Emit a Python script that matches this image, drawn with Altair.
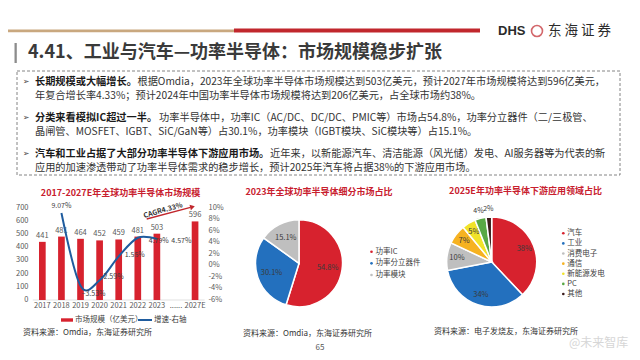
import math
import altair as alt
import pandas as pd

# ---------------- data ----------------
years = ["2017", "2018", "2019", "2020", "2021", "2022", "2023", "......", "2027E"]
market = [441, 481, 464, 452, 459, 481, 503, None, 596]
growth_years = ["2018", "2019", "2020", "2021", "2022", "2023"]
growth = [9.07, -3.53, -2.59, 1.55, 4.79, 4.57]
left_ticks = [0, 100, 200, 300, 400, 500, 600, 700]
right_ticks = [-6, -4, -2, 0, 2, 4, 6, 8, 10]

seg_names = ["功率IC", "功率分立器件", "功率模块"]
seg_share = [54.8, 30.1, 15.1]

app_names = ["汽车", "工业", "消费电子", "通信", "新能源发电", "PC", "其他"]
app_share = [38, 34, 10, 7, 5, 4, 2]

page_title = "4.41、工业与汽车—功率半导体：市场规模稳步扩张"
bullet_lines = [
    ("长期规模或大幅增长。",
     "根据Omdia，2023年全球功率半导体市场规模达到503亿美元，预计2027年市场规模将达到596亿美元，",
     "年复合增长率4.33%；预计2024年中国功率半导体市场规模将达到206亿美元，占全球市场约38%。"),
    ("分类来看模拟IC超过一半。",
     "功率半导体中，功率IC（AC/DC、DC/DC、PMIC等）市场占54.8%，功率分立器件（二/三极管、",
     "晶闸管、MOSFET、IGBT、SiC/GaN等）占30.1%，功率模块（IGBT模块、SiC模块等）占15.1%。"),
    ("汽车和工业占据了大部分功率半导体下游应用市场。",
     "近年来，以新能源汽车、清洁能源（风光储）发电、AI服务器等为代表的新",
     "应用的加速渗透带动了功率半导体需求的稳步增长，预计2025年汽车将占据38%的下游应用市场。"),
]
chart_titles = ["2017-2027E年全球功率半导体市场规模", "2023年全球功率半导体细分市场占比",
                "2025E年功率半导体下游应用领域占比"]
legend_bar = ["市场规模（亿美元）", "增速-右轴"]
sources = ["资料来源：Omdia，东海证券研究所", "资料来源：Omdia，东海证券研究所",
           "资料来源：电子发烧友，东海证券研究所"]
cagr_text = "CAGR4.33%"

# ---------------- style ----------------
FONT = "Noto Sans CJK SC"
RED = "#d7222e"
TRED = "#c8202e"
LBLUE = "#1f5c9e"
seg_colors = ["#d7222e", "#2370be", "#bfbfbf"]
app_colors = ["#d7222e", "#2370be", "#bfbfbf", "#f6b221", "#f1e32a", "#58a845", "#3a1b1b"]
TXT = "#333333"
AX = "#595959"

OX, OY = 8, 8


def px(v):
    return v - OX


def py(v):
    return v - OY


one = pd.DataFrame({"k": [0]})


def T(s, x, y, size=10, color=TXT, weight="normal", align="left", angle=None, font=FONT, opacity=1.0):
    kw = dict(text=s, fontSize=size, color=color, fontWeight=weight, align=align,
              baseline="middle", font=font, opacity=opacity)
    if angle is not None:
        kw["angle"] = angle
    return alt.Chart(one).mark_text(**kw).encode(x=alt.value(px(x)), y=alt.value(py(y)))


def R(x1, x2, y1, y2, color):
    return alt.Chart(one).mark_rect(color=color).encode(
        x=alt.value(px(x1)), x2=alt.value(px(x2)), y=alt.value(py(y1)), y2=alt.value(py(y2)))


def L(x1, y1, x2, y2, color, w=1.0):
    return alt.Chart(one).mark_rule(color=color, strokeWidth=w).encode(
        x=alt.value(px(x1)), x2=alt.value(px(x2)), y=alt.value(py(y1)), y2=alt.value(py(y2)))


def em_width(s, fs):
    return sum(fs if ord(c) > 0x2E80 else fs * 0.56 for c in s)


layers = []

# ---------------- header ----------------
layers.append(R(0, 234, 29.5, 32.3, "#c9a87f"))
layers.append(R(234, 480, 28.6, 32.6, "#c1272d"))
layers.append(T("DHS", 498, 31, size=13, weight="bold", font="Liberation Sans", color="#2b2b2b"))
layers.append(alt.Chart(one).mark_point(shape="circle", filled=False, size=120, color="#c1272d",
                                        strokeWidth=1.6).encode(x=alt.value(px(537)), y=alt.value(py(31))))
layers.append(T("东 海 证 券", 548, 31, size=13.5, color="#2b2b2b"))
layers.append(R(14.5, 16.8, 43, 63, "#8c8c8c"))
layers.append(T(page_title, 28, 53, size=18, weight="bold", color="#3a3a3a"))

# dashed box
layers.append(alt.Chart(one).mark_rect(fillOpacity=0, stroke="#666666", strokeDash=[3, 2], strokeWidth=0.8).encode(
    x=alt.value(px(17)), x2=alt.value(px(620)), y=alt.value(py(71)), y2=alt.value(py(175))))

FS = 10.2
line_y = [(82, 96), (118, 132), (154, 168)]
for (bold, rest, second), (y1, y2) in zip(bullet_lines, line_y):
    layers.append(T("➢", 26, y1, size=8, font="DejaVu Sans", align="center", color="#444444"))
    layers.append(T(bold, 35, y1, size=FS, weight="bold", color="#1a1a1a"))
    layers.append(T(rest, 35 + em_width(bold, FS) + 0.5, y1, size=FS, color=TXT))
    layers.append(T(second, 35, y2, size=FS, color=TXT))

# ---------------- bar + line chart ----------------
xs = alt.Scale(domain=years, range=[px(32.8), px(204.6)], paddingInner=0.65, paddingOuter=0.325)
ysl = alt.Scale(domain=[0, 700], range=[py(300), py(207.7)], nice=False, zero=False)
ysr = alt.Scale(domain=[-6, 10], range=[py(300), py(207.7)], nice=False, zero=False)

bar_df = pd.DataFrame({"year": years, "value": market})
growth_df = pd.DataFrame({"year": growth_years, "g": growth})

layers.append(T(chart_titles[0], 120.5, 192.5, size=9, weight="bold", color=TRED, align="center"))
layers.append(L(32.8, 300, 204.6, 300, "#d9d9d9", 0.8))

bars = alt.Chart(bar_df).transform_filter("isValid(datum.value)").mark_bar(color=RED).encode(
    x=alt.X("year:N", scale=xs, axis=None),
    y=alt.Y("value:Q", scale=ysl, axis=None))
bar_lbl = alt.Chart(bar_df).transform_filter("isValid(datum.value)").mark_text(
    dy=-6, fontSize=7.5, color=AX, font=FONT).encode(
    x=alt.X("year:N", scale=xs, axis=None),
    y=alt.Y("value:Q", scale=ysl, axis=None),
    text=alt.Text("value:Q", format="d"))
layers += [bars, bar_lbl]

line = alt.Chart(growth_df).mark_line(interpolate="cardinal", color=LBLUE, strokeWidth=2).encode(
    x=alt.X("year:N", scale=xs, axis=None),
    y=alt.Y("g:Q", scale=ysr, axis=None))
layers.append(line)

lbl_off = {"2018": (0, -7), "2019": (13, 8), "2020": (12, -3), "2021": (16, -1),
           "2022": (21, 3.6), "2023": (24.5, 2.3)}
for yr, (dx, dy) in lbl_off.items():
    layers.append(alt.Chart(growth_df).transform_filter(alt.datum.year == yr).transform_calculate(
        lab="format(datum.g, '.2f') + '%'").mark_text(
        dx=dx, dy=dy, fontSize=7, color="#404040", font=FONT).encode(
        x=alt.X("year:N", scale=xs, axis=None),
        y=alt.Y("g:Q", scale=ysr, axis=None),
        text="lab:N"))

# axis labels
layers.append(alt.Chart(pd.DataFrame({"year": years})).mark_text(fontSize=7.5, color=AX, font=FONT).encode(
    x=alt.X("year:N", scale=xs, axis=None), y=alt.value(py(305.5)), text="year:N"))
layers.append(alt.Chart(pd.DataFrame({"t": left_ticks})).mark_text(
    fontSize=7.5, color=AX, font=FONT, align="right").encode(
    y=alt.Y("t:Q", scale=ysl, axis=None), x=alt.value(px(28.5)), text="t:N"))
layers.append(alt.Chart(pd.DataFrame({"t": right_ticks})).transform_calculate(
    lab="datum.t + '%'").mark_text(fontSize=7.5, color=AX, font=FONT, align="left").encode(
    y=alt.Y("t:Q", scale=ysr, axis=None), x=alt.value(px(208.5)), text="lab:N"))

# CAGR arrow
layers.append(L(146.7, 219, 190.5, 207.4, "#c1272d", 1.3))
layers.append(alt.Chart(one).mark_point(shape="triangle-right", filled=True, size=30, color="#c1272d",
                                        angle=345, opacity=1).encode(x=alt.value(px(192.5)), y=alt.value(py(206.9))))
layers.append(T(cagr_text, 163, 210.5, size=7, weight="bold", color="#333333", align="center", angle=344))

# bar legend
layers.append(R(61, 73, 318.3, 321.7, RED))
layers.append(T(legend_bar[0], 75, 320, size=7.5, color="#404040"))
layers.append(L(138, 320, 152, 320, LBLUE, 2))
layers.append(T(legend_bar[1], 154, 320, size=7.5, color="#404040"))
layers.append(T(sources[0], 23, 333, size=8, color=TXT))

# ---------------- pies ----------------


def pie(names, shares, colors, cx, cy, r, lab_r_in, lab_r_out, n_in, leg_x, leg_y0, leg_y1, fmt):
    df = pd.DataFrame({"name": names, "share": shares, "idx": list(range(len(names)))})
    cs = alt.Scale(domain=names, range=colors)
    out = []
    out.append(alt.Chart(df).mark_arc(outerRadius=r, stroke="white", strokeWidth=1.5).encode(
        theta=alt.Theta("share:Q", stack=True),
        color=alt.Color("name:N", scale=cs, legend=None),
        order=alt.Order("idx:Q"),
        x=alt.value(px(cx)), y=alt.value(py(cy))))
    base = alt.Chart(df).transform_window(
        cum="sum(share)", sort=[alt.SortField("idx")]).transform_calculate(
        mid="datum.cum - datum.share / 2", lab=fmt)
    ts = alt.Scale(domain=[0, 100], range=[0, 2 * math.pi])
    out.append(base.transform_filter(alt.datum.idx < n_in).mark_text(
        radius=lab_r_in, fontSize=7.5, color="#3a3a3a", font=FONT).encode(
        theta=alt.Theta("mid:Q", scale=ts, stack=False), text="lab:N",
        x=alt.value(px(cx)), y=alt.value(py(cy))))
    if n_in < len(names):
        out.append(base.transform_filter(alt.datum.idx >= n_in).mark_text(
            radius=lab_r_out, fontSize=7, color="#3a3a3a", font=FONT).encode(
            theta=alt.Theta("mid:Q", scale=ts, stack=False), text="lab:N",
            x=alt.value(px(cx)), y=alt.value(py(cy))))
    ls = alt.Scale(type="point", domain=names, range=[py(leg_y0), py(leg_y1)], padding=0)
    out.append(alt.Chart(df).mark_point(filled=True, size=7, opacity=1).encode(
        y=alt.Y("name:N", scale=ls, axis=None),
        x=alt.value(px(leg_x)),
        color=alt.Color("name:N", scale=cs, legend=None)))
    out.append(alt.Chart(df).mark_text(fontSize=7.5, color="#404040", font=FONT, align="left").encode(
        y=alt.Y("name:N", scale=ls, axis=None),
        x=alt.value(px(leg_x + 4)), text="name:N"))
    return out


layers.append(T(chart_titles[1], 319, 191.5, size=9, weight="bold", color=TRED, align="center"))
layers += pie(seg_names, seg_share, seg_colors, 299, 263.3, 43.5, 29, 29, 3, 371.5, 251.7, 275,
              "format(datum.share, '.1f') + '%'")
layers.append(T(sources[1], 243, 334, size=8, color=TXT))

layers.append(T(chart_titles[2], 525.5, 190.5, size=9, weight="bold", color=TRED, align="center"))
layers += pie(app_names, app_share, app_colors, 491.7, 262, 45, 35, 53, 5, 563.3, 233.3, 294,
              "datum.share + '%'")
layers.append(T(sources[2], 434, 332, size=8, color=TXT))

layers.append(T("65", 320, 347.5, size=8, color="#555555", align="center"))
layers.append(T("@未来智库", 569, 343, size=12, color="#bbbbbb", opacity=0.6))

chart = alt.layer(*layers).resolve_scale(
    x="independent", y="independent", color="independent", theta="independent"
).properties(
    width=624, height=344, autosize=alt.AutoSizeParams(type="none"), padding=0, background="white"
).configure_view(stroke=None)

chart.save("out.html", embed_options={"renderer": "svg", "actions": False})
